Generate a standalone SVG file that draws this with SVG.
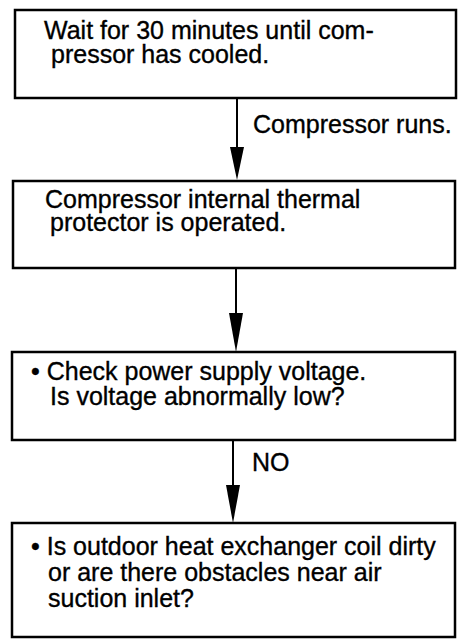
<svg xmlns="http://www.w3.org/2000/svg" width="458" height="640" viewBox="0 0 458 640">
<style>
.box{fill:#fff;stroke:#000;stroke-width:2.5}
.t{font-family:"Liberation Sans",Arial,Helvetica,sans-serif;font-size:25px;fill:#000;stroke:#000;stroke-width:0.35}
.ln{stroke:#000;stroke-width:2}
.hd{fill:#000}
</style>
<rect width="458" height="640" fill="#fff"/>
<g id="n1">
<rect class="box" x="15" y="10" width="441" height="88"/>
<text class="t" x="44" y="39">Wait for 30 minutes until com-</text>
<text class="t" x="51" y="63">pressor has cooled.</text>
</g>
<g id="n2">
<rect class="box" x="13" y="181" width="442" height="87"/>
<text class="t" x="45" y="208">Compressor internal thermal</text>
<text class="t" x="50" y="231">protector is operated.</text>
</g>
<g id="n3">
<rect class="box" x="12" y="352" width="443" height="88"/>
<text class="t" x="31" y="380">• Check power supply voltage.</text>
<text class="t" x="50" y="405">Is voltage abnormally low?</text>
</g>
<g id="n4">
<rect class="box" x="12" y="523" width="443" height="114"/>
<text class="t" x="31" y="555">• Is outdoor heat exchanger coil dirty</text>
<text class="t" x="48" y="581">or are there obstacles near air</text>
<text class="t" x="48" y="607">suction inlet?</text>
</g>
<g id="connectors">
<line class="ln" x1="237" y1="98" x2="237" y2="150"/>
<polygon class="hd" points="230,147 244,147 237,180"/>
<text class="t" x="253" y="133">Compressor runs.</text>
<line class="ln" x1="236" y1="268" x2="236" y2="316"/>
<polygon class="hd" points="229,313 243,313 236,352"/>
<line class="ln" x1="233" y1="440" x2="233" y2="488"/>
<polygon class="hd" points="226,485 240,485 233,523"/>
<text class="t" x="252" y="471">NO</text>
</g>
</svg>
